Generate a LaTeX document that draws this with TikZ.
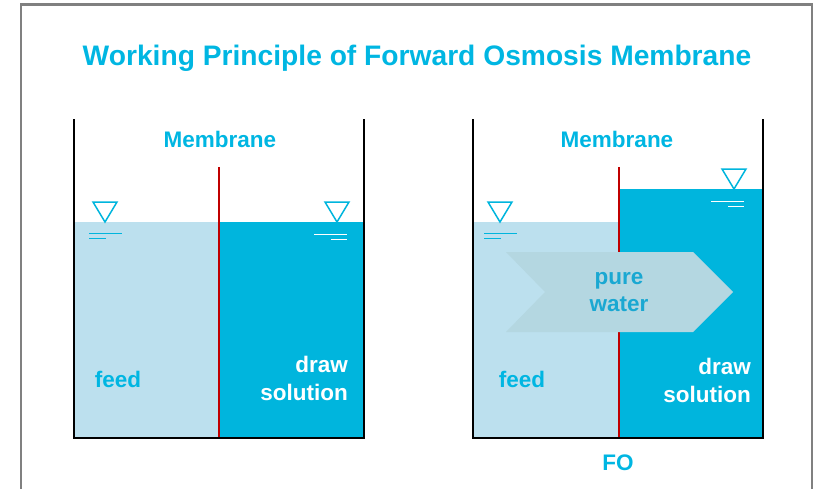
\documentclass[tikz,border=0pt]{standalone}
\usepackage{fontspec}
\setmainfont{Liberation Sans}
\begin{document}
\definecolor{fotitle}{RGB}{0,182,226}
\definecolor{feedblue}{RGB}{188,224,238}
\definecolor{drawblue}{RGB}{0,181,221}
\definecolor{flowgray}{RGB}{180,215,225}
\definecolor{purecyan}{RGB}{26,168,210}
\definecolor{membred}{RGB}{192,0,0}
\definecolor{framegray}{RGB}{128,128,128}
\begin{tikzpicture}[x=1pt,y=-1pt,
  labeltext/.style={font=\bfseries\fontsize{22.5}{27}\selectfont, text=fotitle, anchor=base, inner sep=0pt},
  whitetext/.style={font=\bfseries\fontsize{22.5}{28}\selectfont, text=white, align=right, inner sep=0pt},
  wall/.style={line width=2.6pt, black},
  membrane/.style={line width=2pt, membred},
  levelmark/.style={line width=1.5pt, draw=drawblue},
  levelline/.style={line width=1.9pt, draw=drawblue},
  pics/levelleft/.style={code={
    \draw[levelmark, line join=miter] (-12,-20) -- (12,-20) -- (0,0) -- cycle;
    \draw[levelline] (-16,11.5) -- (17,11.5) (-16,16.5) -- (1,16.5);
  }},
  pics/levelright/.style={code={
    \draw[levelmark, line join=miter] (-12,-20) -- (12,-20) -- (0,0) -- cycle;
    \draw[levelline, draw=white] (-23,12.5) -- (10,12.5) (-6,17.5) -- (10,17.5);
  }}]
\useasboundingbox (0,0) rectangle (815,488);
% outer frame (open at the bottom)
\draw[framegray, line width=2.4pt] (21,490) -- (21,4.5) -- (812,4.5) -- (812,490);

% title
\node[font=\bfseries\fontsize{28.2}{32}\selectfont, text=fotitle, anchor=base, inner sep=0pt]
  (title) at (417,65) {Working Principle of Forward Osmosis Membrane};

% ---------- left tank: equilibrium ----------
\fill[feedblue] (74,222) rectangle (219,438);
\fill[drawblue] (219,222) rectangle (364,438);
\draw[membrane] (219,167) -- (219,437);
\draw[wall] (74,119) -- (74,438) -- (364,438) -- (364,119);
\pic at (105,222) {levelleft};
\pic at (337,222) {levelright};
\node[labeltext] (memA) at (220,147) {Membrane};
\node[labeltext] (feedA) at (118,387) {feed};
\node[whitetext, anchor=north east] (drawA) at (348,356) {draw\\solution};

% ---------- right tank: forward osmosis ----------
\fill[feedblue] (473,222) rectangle (619,438);
\fill[drawblue] (619,189) rectangle (763,438);
\draw[membrane] (619,167) -- (619,437);
\fill[flowgray] (506,252) -- (693,252) -- (733,292) -- (693,332) -- (506,332) -- (545,292) -- cycle;
\draw[wall] (473,119) -- (473,438) -- (763,438) -- (763,119);
\pic at (500,222) {levelleft};
\pic at (734,189) {levelright};
\node[labeltext] (memB) at (617,147) {Membrane};
\node[labeltext] (feedB) at (522,387) {feed};
\node[whitetext, anchor=north east] (drawB) at (751,358) {draw\\solution};
\node[font=\bfseries\fontsize{22.5}{27}\selectfont, text=purecyan, align=center, inner sep=0pt, anchor=north]
  (pure) at (619,272) {pure\\water};
\node[labeltext] (fo) at (618,470) {FO};
\end{tikzpicture}
\end{document}
